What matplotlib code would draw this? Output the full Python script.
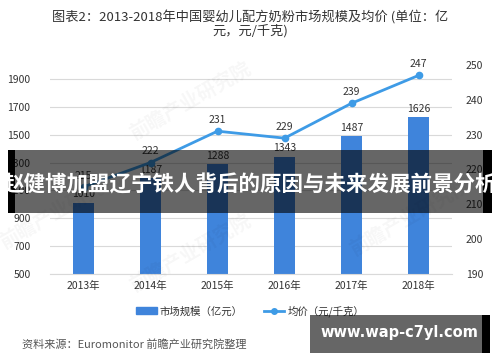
import matplotlib
matplotlib.use("Agg")
import matplotlib.pyplot as plt
import matplotlib.patches as mpatches
from matplotlib.lines import Line2D

plt.rcParams["font.family"] = ["Noto Sans CJK SC", "DejaVu Sans"]

# ── data ──────────────────────────────────────────────────────────────────────
years = ["2013年", "2014年", "2015年", "2016年", "2017年", "2018年"]
market_size = [1010, 1187, 1288, 1343, 1487, 1626]   # 亿元
avg_price = [215, 222, 231, 229, 239, 247]           # 元/千克
left_ticks = [500, 700, 900, 1100, 1300, 1500, 1700, 1900]
right_ticks = [190, 200, 210, 220, 230, 240, 250]

BAR_COLOR = "#3F84DB"
LINE_COLOR = "#3E9BE6"
TEXT_COLOR = "#333333"
GRID_COLOR = "#D9D9D9"

W, H = 500, 362
fig = plt.figure(figsize=(W / 100, H / 100), dpi=100)
fig.patch.set_facecolor("white")


def px(x, y, w, h):
    """pixel box (top-left origin) -> figure fraction rect"""
    return [x / W, 1 - (y + h) / H, w / W, h / H]


ax = fig.add_axes(px(50, 65, 402, 209))
ax2 = ax.twinx()

x = list(range(len(years)))
ax.bar(x, market_size, width=0.31, color=BAR_COLOR, zorder=2)
for xi, v in zip(x, market_size):
    ax.text(xi, v + 25, str(v), ha="center", va="bottom", fontsize=7.5, color=TEXT_COLOR)

ax.set_ylim(500, 2000)
ax.set_yticks(left_ticks)
ax.set_xlim(-0.5, 5.5)
ax.set_xticks(x)
ax.set_xticklabels(years)
ax.yaxis.grid(True, color=GRID_COLOR, linewidth=0.8)
ax.set_axisbelow(True)

ax2.plot(x, avg_price, color=LINE_COLOR, linewidth=2, marker="o", markersize=4.5, zorder=3)
for xi, v in zip(x, avg_price):
    ax2.text(xi, v + 1.8, str(v), ha="center", va="bottom", fontsize=7.5, color=TEXT_COLOR)
ax2.set_ylim(190, 250)
ax2.set_yticks(right_ticks)

for a in (ax, ax2):
    for s in a.spines.values():
        s.set_visible(False)
    a.tick_params(length=0, labelsize=7.5, colors=TEXT_COLOR)
ax.spines["bottom"].set_visible(True)
ax.spines["bottom"].set_color(GRID_COLOR)
ax.tick_params(axis="y", pad=14)
ax.tick_params(axis="x", pad=5)
ax2.tick_params(axis="y", pad=10)

# title
fig.text(0.5, 1 - 17 / H, "图表2：2013-2018年中国婴幼儿配方奶粉市场规模及均价 (单位：亿",
         ha="center", va="center", fontsize=9.5, color=TEXT_COLOR)
fig.text(0.5, 1 - 31 / H, "元，元/千克)", ha="center", va="center", fontsize=9.5, color=TEXT_COLOR)

# legend
handles = [
    mpatches.Patch(color=BAR_COLOR, label="市场规模（亿元）"),
    Line2D([0], [0], color=LINE_COLOR, linewidth=2, marker="o", markersize=4, label="均价（元/千克）"),
]
fig.legend(handles=handles, loc="center", bbox_to_anchor=(0.5, 1 - 311 / H), ncol=2,
           frameon=False, fontsize=7.5, handlelength=2.0, columnspacing=2.0,
           labelcolor=TEXT_COLOR, handletextpad=0.3)

# source
fig.text(22 / W, 1 - 344 / H, "资料来源：Euromonitor 前瞻产业研究院整理",
         ha="left", va="center", fontsize=8, color="#555555")

# faint watermarks
for wx, wy in [(0.38, 0.72), (0.38, 0.30), (0.82, 0.40), (0.12, 0.42)]:
    fig.text(wx, wy, "前瞻产业研究院", rotation=30, fontsize=14, color="#000000",
             alpha=0.035, ha="center", va="center", fontweight="bold")

# overlay banner
fig.patches.append(mpatches.Rectangle((8 / W, 1 - 213 / H), 484 / W, 63 / H,
                                      transform=fig.transFigure, facecolor="black",
                                      alpha=0.6, zorder=10))
fig.patches.append(mpatches.Rectangle((8 / W, 1 - 213 / H), 7 / W, 63 / H,
                                      transform=fig.transFigure, facecolor="black", zorder=11))
fig.patches.append(mpatches.Rectangle((483 / W, 1 - 213 / H), 9 / W, 63 / H,
                                      transform=fig.transFigure, facecolor="black", zorder=11))
fig.text(0.5, 1 - 185 / H, "赵健博加盟辽宁铁人背后的原因与未来发展前景分析",
         ha="center", va="center", fontsize=15.5, fontweight="bold", color="white", zorder=12)

# bottom-right watermark box
fig.patches.append(mpatches.Rectangle((310 / W, 1 - 353 / H), 172 / W, 38 / H,
                                      transform=fig.transFigure, facecolor="black",
                                      alpha=0.6, zorder=10))
fig.patches.append(mpatches.Rectangle((482 / W, 1 - 353 / H), 8 / W, 38 / H,
                                      transform=fig.transFigure, facecolor="black", zorder=11))
fig.text(399 / W, 1 - 333 / H, "www.wap-c7yl.com", ha="center", va="center",
         fontsize=10.5, fontweight="bold", color="white", family="DejaVu Sans", zorder=12)

fig.savefig("out.png", dpi=100, facecolor="white")
